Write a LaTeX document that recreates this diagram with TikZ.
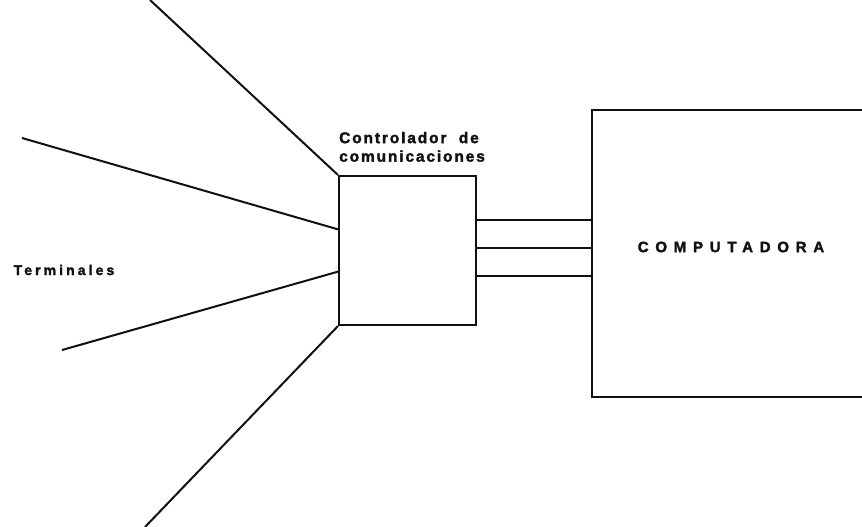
\documentclass[tikz,border=0pt]{standalone}
\usepackage{fontspec}
\setmainfont{Liberation Sans}
\usepackage{xcolor}
\usetikzlibrary{
    positioning,
    calc
}
\definecolor{Tinta}{HTML}{111111}

\newfontfamily\letrero[LetterSpace=12,FakeBold=2]{Liberation Sans Bold}
\newfontfamily\letreroancho[LetterSpace=45,FakeBold=2]{Liberation Sans Bold}
\newfontfamily\letreromedio[LetterSpace=22,FakeBold=2]{Liberation Sans Bold}

\tikzset{
    caja/.style={draw=Tinta, line width=2pt, inner sep=0pt},
    enlace/.style={draw=Tinta, line width=2pt},
    rotulo/.style={text=Tinta, inner sep=0pt}
}

\begin{document}
\begin{tikzpicture}[x=1pt,y=-1pt]

                \useasboundingbox (0,0) rectangle (862,527);

                % cajas
                \node[
                    caja,
                    minimum width=137pt,
                    minimum height=149pt
                ] (ctrl) at (407.5,250.5) {};

                \node[
                    caja,
                    minimum width=300pt,
                    minimum height=287pt
                ] (comp) at (742,253.5) {};

                % textos
                \node[
                    rotulo,
                    font=\letrero\fontsize{15.5}{18.5}\selectfont,
                    align=left,
                    above=13pt of ctrl.north west,
                    anchor=south west,
                    xshift=1pt
                ] (ctrltxt) {Controlador \ de\\comunicaciones};

                \node[
                    rotulo,
                    font=\letreroancho\fontsize{15}{16}\selectfont
                ] (comptxt) at (731,247) {COMPUTADORA};

                \node[
                    rotulo,
                    font=\letreromedio\fontsize{14}{15}\selectfont
                ] (term) at (64,270) {Terminales};

                % terminales
                \coordinate (t1) at (150,0);
                \coordinate (t2) at (22,138);
                \coordinate (t3) at (62,350);
                \coordinate (t4) at (145,527);

                \draw[enlace] (t1) -- (ctrl.north west);
                \draw[enlace] (t2) -- ($(ctrl.north west)!0.36!(ctrl.south west)$);
                \draw[enlace] (t3) -- ($(ctrl.north west)!0.64!(ctrl.south west)$);
                \draw[enlace] (t4) -- (ctrl.south west);

                % lineas hacia la computadora
                \foreach \f in {0.295,0.483,0.671}{
                    \draw[enlace] ($(ctrl.north east)!\f!(ctrl.south east)$) coordinate (p)
                        -- (p -| comp.west);
                }

            \end{tikzpicture}
\end{document}
